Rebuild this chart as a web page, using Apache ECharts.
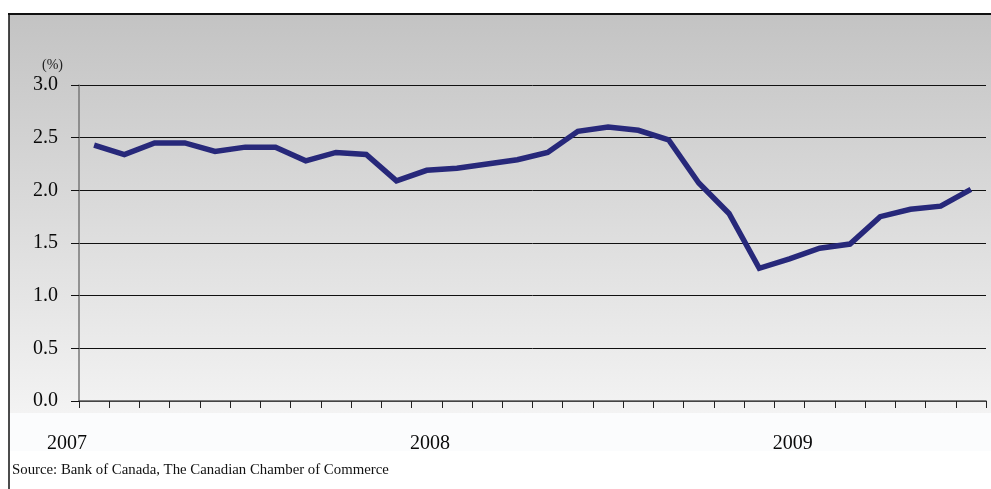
<!DOCTYPE html>
<html>
<head>
<meta charset="utf-8">
<script src="https://cdn.jsdelivr.net/npm/echarts@6/dist/echarts.min.js"></script>
<style>
  html, body { margin: 0; padding: 0; background: #ffffff; }
  #chart { width: 991px; height: 489px; }
</style>
</head>
<body>
<div id="chart"></div>
<script>
// Monthly series, January 2007 to June 2009 (percent)
const months = [
  '2007-01','2007-02','2007-03','2007-04','2007-05','2007-06',
  '2007-07','2007-08','2007-09','2007-10','2007-11','2007-12',
  '2008-01','2008-02','2008-03','2008-04','2008-05','2008-06',
  '2008-07','2008-08','2008-09','2008-10','2008-11','2008-12',
  '2009-01','2009-02','2009-03','2009-04','2009-05','2009-06'
];
const values = [
  2.43, 2.34, 2.45, 2.45, 2.37, 2.41, 2.41, 2.28, 2.36, 2.34, 2.09, 2.19,
  2.21, 2.25, 2.29, 2.36, 2.56, 2.60, 2.57, 2.48, 2.07, 1.78, 1.26, 1.35,
  1.45, 1.49, 1.75, 1.82, 1.85, 2.01
];
const yearLabels = ['2007', '2008', '2009'];
const unitLabel = '(%)';
const sourceNote = 'Source: Bank of Canada, The Canadian Chamber of Commerce';

const serif = '"Liberation Serif", "DejaVu Serif", serif';
const chart = echarts.init(document.getElementById('chart'), null, { renderer: 'canvas' });

chart.setOption({
  animation: false,
  backgroundColor: '#ffffff',
  grid: { left: 79, right: 5, top: 85, bottom: 88, containLabel: false },
  xAxis: {
    type: 'category',
    data: months,
    boundaryGap: true,
    axisLine: { show: true, lineStyle: { color: '#555555', width: 1.5 } },
    axisTick: { show: true, interval: 0, length: 7, lineStyle: { color: '#222222', width: 1 } },
    axisLabel: {
      interval: function (index) { return index % 12 === 0; },
      formatter: function (value, index) { return yearLabels[Math.floor(index / 12)]; },
      margin: 33,
      padding: [0, 54, 0, 0],
      color: '#0a0a0a',
      fontFamily: serif,
      fontSize: 20
    },
    splitLine: { show: false }
  },
  yAxis: {
    type: 'value',
    min: 0,
    max: 3,
    interval: 0.5,
    axisLine: { show: true, lineStyle: { color: '#777777', width: 1.5 } },
    axisTick: { show: true, length: 8, lineStyle: { color: '#111111', width: 1 } },
    axisLabel: {
      margin: 21,
      color: '#0a0a0a',
      fontFamily: serif,
      fontSize: 20,
      formatter: function (v) { return v.toFixed(1); }
    },
    splitLine: { show: true, lineStyle: { color: '#111111', width: 1 } }
  },
  series: [{
    type: 'line',
    data: values,
    showSymbol: false,
    symbol: 'none',
    lineStyle: { color: '#27287a', width: 5.5, join: 'miter' },
    z: 5
  }],
  graphic: [
    {
      type: 'rect',
      z: -10,
      silent: true,
      shape: { x: 9, y: 14, width: 982, height: 475 },
      style: {
        fill: new echarts.graphic.LinearGradient(0, 0, 0, 1, [
          { offset: 0, color: '#c3c3c3' },
          { offset: 0.84, color: '#f3f3f3' },
          { offset: 0.841, color: '#fbfcfd' },
          { offset: 0.92, color: '#fbfcfd' },
          { offset: 0.921, color: '#ffffff' },
          { offset: 1, color: '#ffffff' }
        ])
      }
    },
    {
      type: 'line', z: 10, silent: true,
      shape: { x1: 8, y1: 14, x2: 991, y2: 14 },
      style: { stroke: '#111111', lineWidth: 2 }
    },
    {
      type: 'line', z: 10, silent: true,
      shape: { x1: 9, y1: 13, x2: 9, y2: 489 },
      style: { stroke: '#111111', lineWidth: 1.5 }
    },
    {
      type: 'text', z: 10, silent: true,
      left: 42, top: 58,
      style: { text: unitLabel, fill: '#222222', font: '14px ' + serif }
    },
    {
      type: 'text', z: 10, silent: true,
      left: 12, top: 463,
      style: { text: sourceNote, fill: '#111111', font: '14.8px ' + serif }
    }
  ]
});
</script>
</body>
</html>
